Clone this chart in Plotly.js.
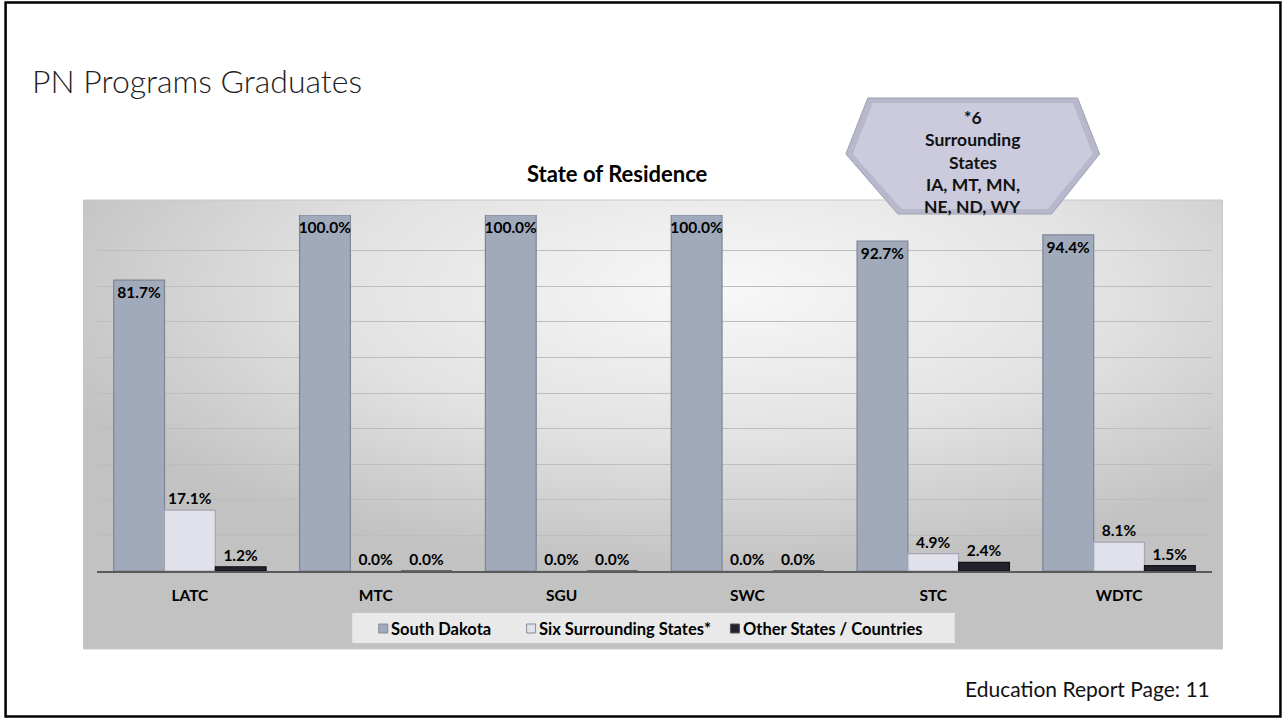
<!DOCTYPE html>
<html>
<head>
<meta charset="utf-8">
<script src="https://cdn.plot.ly/plotly-3.0.1.min.js"></script>
<style>html,body{margin:0;padding:0;background:#fff;}#chart{width:1284px;height:719px;}</style>
</head>
<body>
<div id="chart"></div>
<script>
// ---- data ----
const categories = ["LATC", "MTC", "SGU", "SWC", "STC", "WDTC"];
const southDakota = [81.7, 100.0, 100.0, 100.0, 92.7, 94.4];
const sixSurrounding = [17.1, 0.0, 0.0, 0.0, 4.9, 8.1];
const otherStates = [1.2, 0.0, 0.0, 0.0, 2.4, 1.5];
const seriesNames = ["South Dakota", "Six Surrounding States*", "Other States / Countries"];
const seriesColors = ["#a0aabb", "#e1e1ec", "#23232d"];
const seriesLines = ["#7d8696", "#a6a6b3", "#111118"];
const hexLines = ["*6", "Surrounding", "States", "IA, MT, MN,", "NE, ND, WY"];

// ---- layout geometry (pixels) ----
const W = 1284, H = 719;
const L = 96.5, R = 1212.5, T = 215, B = 571;
const PW = R - L, PH = B - T;
const X = px => (px - L) / PW;
const Y = py => (B - py) / PH;

const FONT = "Lato, 'Open Sans', sans-serif";
const labelFont = {family: FONT, size: 15.5, color: "#000", weight: 700};

function barTrace(i, vals, pos) {
  return {
    type: "bar", name: seriesNames[i], x: categories, y: vals,
    marker: {color: seriesColors[i], line: {color: seriesLines[i], width: 1.2}},
    texttemplate: "%{y:.1f}%",
    textposition: pos,
    insidetextanchor: "end",
    textangle: 0,
    constraintext: "none",
    cliponaxis: false,
    textfont: labelFont,
    insidetextfont: labelFont,
    outsidetextfont: labelFont,
    hoverinfo: "skip",
    showlegend: false
  };
}

const traces = [
  barTrace(0, southDakota, "inside"),
  barTrace(1, sixSurrounding, "outside"),
  barTrace(2, otherStates, "outside")
];

// background gradient (chart area)
const bgSvg = '<svg xmlns="http://www.w3.org/2000/svg" width="1140" height="449" viewBox="0 0 1140 449" preserveAspectRatio="none">' +
  '<defs><radialGradient id="g" cx="0.56" cy="0.2" r="0.62" fx="0.56" fy="0.2">' +
  '<stop offset="0" stop-color="#f8f8f8"/><stop offset="0.55" stop-color="#e2e2e2"/><stop offset="1" stop-color="#c2c2c2"/>' +
  '</radialGradient></defs><rect x="0" y="0" width="1140" height="449" fill="url(#g)"/></svg>';
const bgUri = "data:image/svg+xml;charset=utf-8," + encodeURIComponent(bgSvg);

// hexagon
function poly(pts) {
  return "M" + pts.map(p => X(p[0]).toFixed(5) + "," + Y(p[1]).toFixed(5)).join(" L") + " Z";
}
const hexPath = poly([[868, 98], [1078, 98], [1100, 154], [1052, 214], [898, 214], [846, 154]]);
const hexInnerPath = poly([[873, 103], [1073, 103], [1093, 154], [1048, 209], [902, 209], [853, 154]]);

const hexY = [117, 139.5, 162, 184.5, 207];
const annotations = [
  {text: "PN Programs Graduates", x: X(29), y: Y(80), xref: "paper", yref: "paper",
   xanchor: "left", yanchor: "middle", showarrow: false,
   font: {family: FONT, size: 32, color: "#222", weight: 300}},
  {text: "<b>State of Residence</b>", x: X(617), y: Y(173), xref: "paper", yref: "paper",
   xanchor: "center", yanchor: "middle", showarrow: false,
   font: {family: FONT, size: 22, color: "#000"}},
  {text: "Education Report Page: 11", x: X(1213), y: Y(688), xref: "paper", yref: "paper",
   xanchor: "right", yanchor: "middle", showarrow: false,
   font: {family: FONT, size: 21, color: "#111"}}
];
hexLines.forEach((t, i) => annotations.push({
  text: "<b>" + t + "</b>", x: X(973), y: Y(hexY[i]), xref: "paper", yref: "paper",
  xanchor: "center", yanchor: "middle", showarrow: false,
  font: {family: FONT, size: 17.5, color: "#111"}
}));

const shapes = [
  // slide frame
  {type: "rect", xref: "paper", yref: "paper", x0: X(5), x1: X(1281), y0: Y(716.5), y1: Y(2.5),
   line: {color: "#000", width: 2.5}, fillcolor: "rgba(0,0,0,0)", layer: "below"},
  // chart area outline
  {type: "rect", xref: "paper", yref: "paper", x0: X(83), x1: X(1223), y0: Y(649), y1: Y(200),
   line: {color: "#c8c8c8", width: 1}, fillcolor: "rgba(0,0,0,0)", layer: "below"},
  // legend box
  {type: "rect", xref: "paper", yref: "paper", x0: X(352), x1: X(955), y0: Y(643), y1: Y(613),
   line: {width: 0}, fillcolor: "rgba(240,240,240,0.85)", layer: "below"},
  // hexagon
  {type: "path", xref: "paper", yref: "paper", path: hexPath,
   fillcolor: "#b7b8cb", line: {color: "#a0a1b3", width: 1}, layer: "above"},
  {type: "path", xref: "paper", yref: "paper", path: hexInnerPath,
   fillcolor: "#cbcbdd", line: {width: 0}, layer: "above"}
];

// custom legend (marker squares + labels)
const legMarkX = [383, 531, 735];
seriesNames.forEach((n, i) => {
  shapes.push({type: "rect", xref: "paper", yref: "paper",
    x0: X(legMarkX[i] - 4.5), x1: X(legMarkX[i] + 4.5), y0: Y(633), y1: Y(624),
    fillcolor: seriesColors[i], line: {color: i === 2 ? "#555" : "#8a8a99", width: 1}, layer: "above"});
  annotations.push({text: "<b>" + n + "</b>", x: X(legMarkX[i] + 6), y: Y(628.5),
    xref: "paper", yref: "paper", xanchor: "left", yanchor: "middle", showarrow: false,
    font: {family: FONT, size: 16.5, color: "#000"}});
});

const layout = {
  width: W, height: H,
  margin: {l: L, r: W - R, t: T, b: H - B, pad: 0},
  paper_bgcolor: "#ffffff",
  plot_bgcolor: "rgba(0,0,0,0)",
  barmode: "group", bargap: 0.18, bargroupgap: 0,
  showlegend: false,
  xaxis: {type: "category", showline: true, linecolor: "#5a5a5a", linewidth: 1.5,
          ticks: "", showgrid: false, zeroline: false, ticklabelstandoff: 10,
          tickfont: {family: FONT, size: 15.5, color: "#000", weight: 700}, fixedrange: true},
  yaxis: {range: [0, 100], dtick: 10, showticklabels: false, showgrid: true,
          gridcolor: "#bdbdbd", gridwidth: 1, zeroline: false, showline: false, fixedrange: true},
  images: [{source: bgUri, xref: "paper", yref: "paper", x: X(83), y: Y(200),
            sizex: 1140 / PW, sizey: 449 / PH, xanchor: "left", yanchor: "top",
            sizing: "stretch", layer: "below"}],
  shapes: shapes,
  annotations: annotations
};

Plotly.newPlot("chart", traces, layout, {displayModeBar: false, staticPlot: true});
</script>
</body>
</html>
